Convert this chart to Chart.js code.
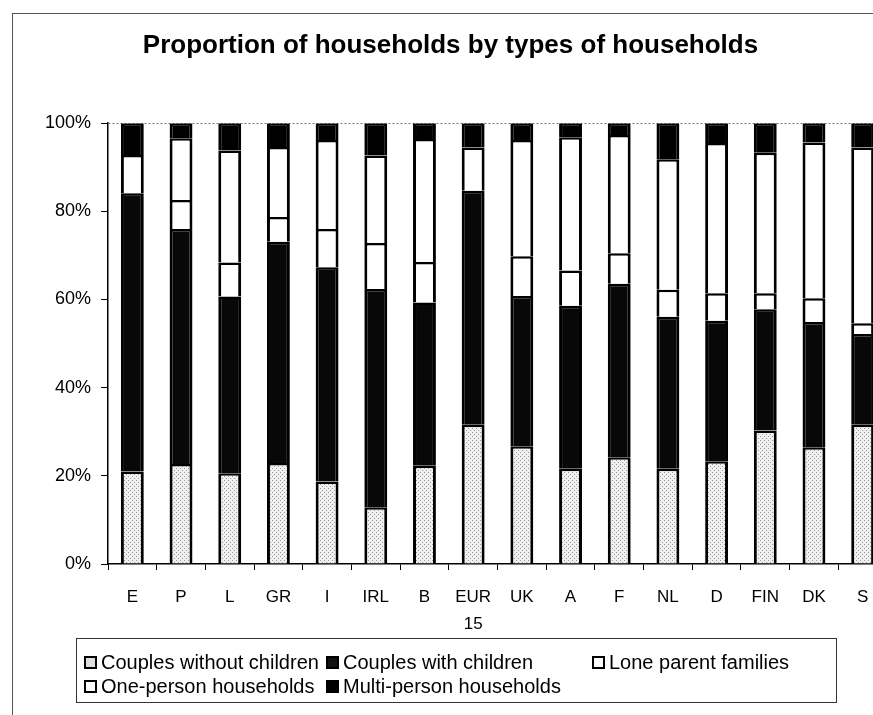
<!DOCTYPE html>
<html>
<head>
<meta charset="utf-8">
<script src="https://cdn.jsdelivr.net/npm/chart.js@4.4.0/dist/chart.umd.min.js"></script>
<style>
  html, body { margin: 0; padding: 0; background: #fff; overflow: hidden; }
  body { width: 873px; height: 715px; position: relative; font-family: "Liberation Sans", Arial, sans-serif; }
  #frame { position: absolute; left: 12px; top: 13px; width: 900px; height: 720px; border: 1px solid #555; }
  #wrap { position: absolute; left: 0; top: 0; width: 900px; height: 715px; }
  #legend { position: absolute; left: 76px; top: 638px; width: 761px; height: 65px; border: 1px solid #333;
            box-sizing: border-box; }
  .item { position: absolute; font-size: 20px; color: #000; white-space: nowrap; line-height: 22px; }
  .item i { display: inline-block; width: 9px; height: 9px; border: 2px solid #000; margin-right: 4px; vertical-align: 0px; }
</style>
</head>
<body>
<div id="frame"></div>
<div id="wrap"><canvas id="chart"></canvas></div>
<div id="legend"></div>
<script>
const categories = ['E', 'P', 'L', 'GR', 'I', 'IRL', 'B', ['EUR', '15'], 'UK', 'A', 'F', 'NL', 'D', 'FIN', 'DK', 'S'];
const seriesNames = ['Couples without children', 'Couples with children', 'Lone parent families',
                     'One-person households', 'Multi-person households'];

// shares in %
const couplesWithout = [21.0, 22.7, 20.6, 22.9, 18.7, 12.9, 22.3, 31.6, 26.7, 21.6, 24.2, 21.6, 23.3, 30.3, 26.5, 31.6];
const couplesWith    = [63.1, 53.3, 40.1, 50.2, 48.6, 49.5, 37.0, 53.1, 34.1, 37.0, 39.4, 34.5, 31.9, 27.5, 28.4, 20.6];
const loneParent     = [0.0, 6.6, 7.7, 5.6, 8.7, 10.4, 9.2, 0.0, 9.0, 8.0, 6.9, 6.1, 6.2, 3.6, 5.4, 2.4];
const onePerson      = [8.7, 14.0, 25.4, 15.9, 20.2, 19.9, 27.9, 9.8, 26.4, 30.2, 26.8, 29.6, 34.1, 31.9, 35.3, 39.9];
const multiPerson    = [7.2, 3.4, 6.2, 5.4, 3.8, 7.3, 3.6, 5.5, 3.8, 3.2, 2.7, 8.2, 4.5, 6.7, 4.4, 5.5];

const yTicks = [0, 20, 40, 60, 80, 100];

// light stipple fill for the bottom segment
function stipple() {
    const c = document.createElement('canvas');
    c.width = 4; c.height = 4;
    const g = c.getContext('2d');
    g.fillStyle = '#f0f0f0';
    g.fillRect(0, 0, 4, 4);
    g.fillStyle = '#999';
    g.fillRect(0, 0, 1, 1);
    g.fillRect(2, 2, 1, 1);
    return g.createPattern(c, 'repeat');
}

const fills = [stipple(), '#080808', '#ffffff', '#ffffff', '#000000'];
const legendFills = ['#dedede', '#111', '#fff', '#fff', '#000'];
const values = [couplesWithout, couplesWith, loneParent, onePerson, multiPerson];

const datasets = seriesNames.map((name, i) => ({
    label: name,
    data: values[i],
    backgroundColor: fills[i],
    borderColor: '#000',
    borderWidth: { top: 2.5, left: 3, right: 3, bottom: 0 },
    borderSkipped: false,
    barPercentage: 0.47,
    categoryPercentage: 1.0
}));

Chart.defaults.font.family = '"Liberation Sans", Arial, sans-serif';
Chart.defaults.color = '#000';

new Chart(document.getElementById('chart'), {
    type: 'bar',
    data: { labels: categories, datasets: datasets },
    options: {
        responsive: true,
        maintainAspectRatio: false,
        animation: false,
        layout: { padding: { left: 14, right: 13, top: 0, bottom: 71 } },
        plugins: {
            legend: { display: false },
            tooltip: { enabled: false },
            title: {
                display: true,
                text: 'Proportion of households by types of households',
                font: { size: 26, weight: 'bold' },
                padding: { top: 30, bottom: 62 },
                color: '#000'
            }
        },
        scales: {
            x: {
                stacked: true,
                afterFit: s => { s.height = 80; },
                grid: { drawOnChartArea: false, drawTicks: true, tickLength: 6, tickColor: '#000', offset: true },
                border: { display: true, color: '#000', width: 1.5 },
                ticks: { font: { size: 17, lineHeight: 1.6 }, padding: 14, maxRotation: 0, autoSkip: false }
            },
            y: {
                stacked: true,
                min: 0,
                max: 100,
                afterFit: s => { s.width = 94; },
                afterBuildTicks: s => { s.ticks = yTicks.map(v => ({ value: v })); },
                grid: {
                    drawTicks: true,
                    tickLength: 7,
                    tickColor: '#000',
                    color: c => (c.tick && c.tick.value === 100 ? '#777' : 'rgba(0,0,0,0)'),
                    lineWidth: 1
                },
                border: { display: true, color: '#000', width: 1.5, dash: [2, 2] },
                ticks: { font: { size: 18 }, padding: 10, callback: v => v + '%' }
            }
        }
    }
});

// boxed legend laid out in columns like the original
const legendPos = [[7, 23], [249, 23], [515, 23], [7, 47], [249, 47]];
const legendBox = document.getElementById('legend');
seriesNames.forEach((name, i) => {
    const el = document.createElement('div');
    el.className = 'item';
    el.style.left = legendPos[i][0] + 'px';
    el.style.top = legendPos[i][1] - 11 + 'px';
    const mark = document.createElement('i');
    mark.style.background = legendFills[i];
    el.appendChild(mark);
    el.appendChild(document.createTextNode(name));
    legendBox.appendChild(el);
});
</script>
</body>
</html>
